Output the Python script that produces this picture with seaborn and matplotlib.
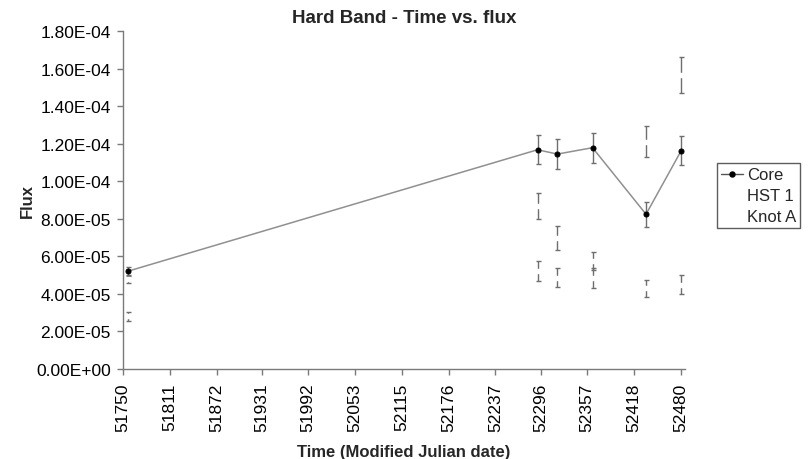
import matplotlib
matplotlib.use("Agg")
import matplotlib.pyplot as plt
from matplotlib.lines import Line2D
from matplotlib.ticker import FuncFormatter, FixedLocator
import seaborn as sns
import pandas as pd

# Observation dates (MJD) and hard-band fluxes with 1-sigma errors
mjd = [51756, 52292, 52318, 52364, 52434, 52480]
core = [5.20e-5, 1.168e-4, 1.145e-4, 1.179e-4, 8.24e-5, 1.163e-4]
core_err = [2.2e-6, 7.7e-6, 7.9e-6, 8.0e-6, 6.7e-6, 7.8e-6]
hst1 = [2.81e-5, 8.68e-5, 6.99e-5, 5.75e-5, 1.212e-4, 1.566e-4]
hst1_err = [2.4e-6, 6.9e-6, 6.4e-6, 4.7e-6, 8.1e-6, 9.7e-6]
knot_a = [4.76e-5, 5.23e-5, 4.85e-5, 4.84e-5, 4.28e-5, 4.49e-5]
knot_a_err = [2.0e-6, 5.3e-6, 5.1e-6, 5.3e-6, 4.7e-6, 5.1e-6]

x_ticks = [51750, 51811, 51872, 51931, 51992, 52053, 52115,
           52176, 52237, 52296, 52357, 52418, 52480]
y_ticks = [0, 2e-5, 4e-5, 6e-5, 8e-5, 1e-4, 1.2e-4, 1.4e-4, 1.6e-4, 1.8e-4]

sns.set_theme(style="white")
plt.rcParams["font.family"] = ["Liberation Sans", "DejaVu Sans"]

fig = plt.figure(figsize=(8.1, 4.6), dpi=100)
ax = fig.add_axes([0.1522, 0.1963, 0.6935, 0.7335])

df = pd.DataFrame({"mjd": mjd, "Core": core})

axis_gray = "#7a7a7a"
bar_gray = "#6e6e6e"

# Faint sources: error bars only, with a small white gap at the centre
for vals, errs in ((hst1, hst1_err), (knot_a, knot_a_err)):
    ax.errorbar(mjd, vals, yerr=errs, fmt="s", ms=3.2, mfc="white", mec="white",
                ecolor=bar_gray, elinewidth=1.0, capsize=1.8, capthick=1.0,
                zorder=2)

# Core light curve
ax.errorbar(mjd, core, yerr=core_err, fmt="none", ecolor=bar_gray,
            elinewidth=1.0, capsize=1.8, capthick=1.0, zorder=3)
sns.lineplot(data=df, x="mjd", y="Core", ax=ax, color="#909090", lw=1.1,
             marker="o", markersize=3.6, markerfacecolor="black",
             markeredgecolor="black", zorder=4, legend=False)

ax.set_xlim(51750, 52485)
ax.set_ylim(0, 1.8e-4)
ax.xaxis.set_major_locator(FixedLocator(x_ticks))
ax.yaxis.set_major_locator(FixedLocator(y_ticks))
ax.yaxis.set_major_formatter(FuncFormatter(lambda v, p: f"{v:.2E}"))
ax.set_xticklabels([str(t) for t in x_ticks], rotation=90)

for side in ("top", "right"):
    ax.spines[side].set_visible(False)
for side in ("left", "bottom"):
    ax.spines[side].set_color(axis_gray)
    ax.spines[side].set_linewidth(1.0)

ax.tick_params(axis="both", which="major", direction="out", length=4,
               width=1.0, color=axis_gray, labelsize=12.5, labelcolor="black",
               left=True, bottom=True)
ax.tick_params(axis="y", pad=5)
ax.tick_params(axis="x", pad=6)

ax.set_title("Hard Band - Time vs. flux", fontsize=13.5, fontweight="bold",
             pad=7)
ax.set_xlabel("Time (Modified Julian date)", fontsize=12, fontweight="bold",
              labelpad=9)
ax.set_ylabel("Flux", fontsize=12, fontweight="bold", labelpad=1)

handles = [
    Line2D([], [], color="#555555", lw=1.0, marker="o", ms=3.6,
           mfc="black", mec="black"),
    Line2D([], [], linestyle="none"),
    Line2D([], [], linestyle="none"),
]
leg = fig.legend(handles, ["Core", "HST 1", "Knot A"], loc="upper left",
                 bbox_to_anchor=(0.885, 0.643), fontsize=12, frameon=True,
                 fancybox=False, handlelength=1.3, handletextpad=0.25,
                 labelspacing=0.35, borderpad=0.25, borderaxespad=0)
leg.get_frame().set_edgecolor("#333333")
leg.get_frame().set_linewidth(1.0)

fig.savefig("out.png", dpi=100, facecolor="white")
